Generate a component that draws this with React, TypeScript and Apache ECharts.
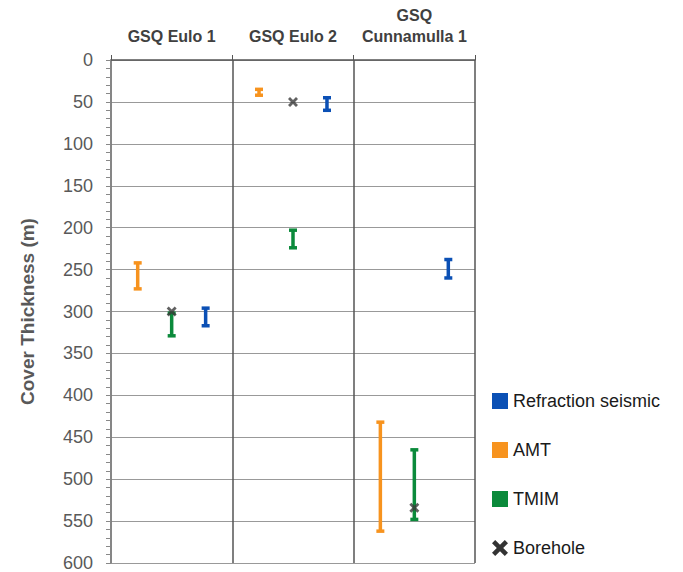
import React, { useEffect, useRef } from "react";
import * as echarts from "echarts";

const wells = ["GSQ Eulo 1", "GSQ Eulo 2", "GSQ\nCunnamulla 1"];
const seriesNames = ["Refraction seismic", "AMT", "TMIM", "Borehole"];
// [category index, shallow, deep]
const seismicRanges = [
  [0, 296, 317],
  [1, 45, 60],
  [2, 238, 260],
];
const amtRanges = [
  [0, 242, 273],
  [1, 35, 42],
  [2, 432, 562],
];
const tmimRanges = [
  [0, 302, 329],
  [1, 203, 224],
  [2, 465, 548],
];
const boreholeDepths = [
  [0, 300],
  [1, 50],
  [2, 534],
];
const yTicks = { min: 0, max: 600, interval: 50 };

const COLORS = {
  seismic: "#0b50b5",
  amt: "#f7931e",
  tmim: "#0b8a3b",
  borehole: "#3a3a3a",
};

const X_PATH =
  "path://M2,0L5,3L8,0L10,2L7,5L10,8L8,10L5,7L2,10L0,8L3,5L0,2Z";

function errorBar(offset: number, color: string) {
  return (params: any, api: any) => {
    const cat = api.value(0);
    const lo = api.value(1);
    const hi = api.value(2);
    const p1 = api.coord([cat, lo]);
    const p2 = api.coord([cat, hi]);
    const w = api.size([1, 0])[0];
    const x = p1[0] + offset * w;
    const cap = 4;
    const style = { stroke: color, lineWidth: 3.5 };
    return {
      type: "group",
      children: [
        { type: "line", shape: { x1: x, y1: p1[1], x2: x, y2: p2[1] }, style },
        { type: "line", shape: { x1: x - cap, y1: p1[1], x2: x + cap, y2: p1[1] }, style },
        { type: "line", shape: { x1: x - cap, y1: p2[1], x2: x + cap, y2: p2[1] }, style },
      ],
    };
  };
}

export default function App() {
  const ref = useRef<HTMLDivElement>(null);
  useEffect(() => {
    if (!ref.current) return;
    const chart = echarts.init(ref.current, null, { renderer: "svg" });
    const font = "Liberation Sans";
    chart.setOption({
      animation: false,
      textStyle: { fontFamily: font },
      grid: { left: 111, right: 208, top: 60, bottom: 8 },
      legend: {
        orient: "vertical",
        left: 492,
        top: 392,
        padding: 0,
        itemWidth: 16,
        itemHeight: 16,
        itemGap: 31,
        textStyle: { fontSize: 18, color: "#1a1a1a", fontFamily: font },
        data: [
          { name: seriesNames[0], icon: "rect" },
          { name: seriesNames[1], icon: "rect" },
          { name: seriesNames[2], icon: "rect" },
          { name: seriesNames[3], icon: X_PATH, itemStyle: { color: "#000" } },
        ],
      },
      xAxis: {
        type: "category",
        position: "top",
        data: wells,
        boundaryGap: true,
        axisLine: { show: true, lineStyle: { color: "#555", width: 1.5 } },
        axisTick: { show: true, length: 5, lineStyle: { color: "#555" } },
        axisLabel: {
          interval: 0,
          fontSize: 16,
          fontWeight: "bold",
          color: "#404040",
          margin: 13,
          lineHeight: 21,
          fontFamily: font,
        },
        splitLine: { show: true, interval: 0, lineStyle: { color: "#555", width: 1.5 } },
      },
      yAxis: {
        type: "value",
        inverse: true,
        min: yTicks.min,
        max: yTicks.max,
        interval: yTicks.interval,
        name: "Cover Thickness (m)",
        nameLocation: "middle",
        nameGap: 74,
        nameTextStyle: { fontSize: 19, fontWeight: "bold", color: "#595959", fontFamily: font },
        axisLine: { show: true, lineStyle: { color: "#888", width: 1.5 } },
        axisTick: { show: true, length: 5, lineStyle: { color: "#888" } },
        minorTick: { show: true, splitNumber: 5, length: 5, lineStyle: { color: "#888" } },
        axisLabel: { fontSize: 18, color: "#595959", margin: 18, fontFamily: font },
        splitLine: { show: true, lineStyle: { color: "#999", width: 1 } },
      },
      series: [
        {
          name: seriesNames[0],
          type: "custom",
          color: COLORS.seismic,
          renderItem: errorBar(0.28, COLORS.seismic),
          encode: { x: 0, y: [1, 2] },
          data: seismicRanges,
          z: 3,
        },
        {
          name: seriesNames[1],
          type: "custom",
          color: COLORS.amt,
          renderItem: errorBar(-0.28, COLORS.amt),
          encode: { x: 0, y: [1, 2] },
          data: amtRanges,
          z: 3,
        },
        {
          name: seriesNames[2],
          type: "custom",
          color: COLORS.tmim,
          renderItem: errorBar(0, COLORS.tmim),
          encode: { x: 0, y: [1, 2] },
          data: tmimRanges,
          z: 3,
        },
        {
          name: seriesNames[3],
          type: "scatter",
          symbol: X_PATH,
          symbolSize: 10,
          itemStyle: { color: COLORS.borehole },
          data: boreholeDepths,
          z: 4,
        },
      ],
    });
    return () => chart.dispose();
  }, []);
  return (
    <div
      ref={ref}
      style={{ position: "absolute", left: 0, top: 0, width: 683, height: 572 }}
    />
  );
}
